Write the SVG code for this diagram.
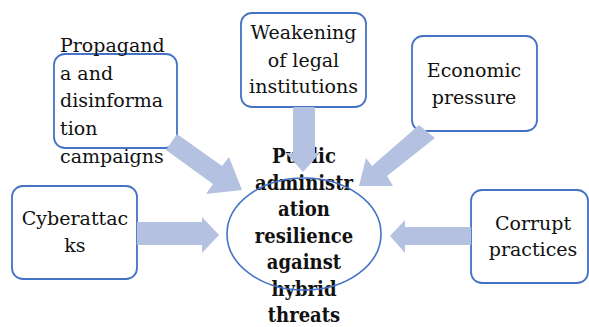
<svg xmlns="http://www.w3.org/2000/svg" width="589" height="327" viewBox="0 0 589 327">
<style>
.box{fill:#fff;stroke:#4472c4;stroke-width:1.8}
.t{font-family:"DejaVu Serif","Liberation Serif",serif;font-size:19px;fill:#111}
.c{text-anchor:middle}
.b{font-family:"DejaVu Serif Condensed","DejaVu Serif","Liberation Serif",serif;font-size:20px;font-weight:bold;fill:#111;text-anchor:middle}
.arr{fill:#b4c1e1}
</style>
<rect width="589" height="327" fill="#fff"/>
<g id="propaganda">
<rect class="box" x="54" y="54" width="123" height="94" rx="11"/>
<text class="t" x="60"><tspan x="60" y="52">Propagand</tspan><tspan x="60" y="79.5">a and</tspan><tspan x="60" y="107">disinforma</tspan><tspan x="60" y="135">tion</tspan><tspan x="60" y="163">campaigns</tspan></text>
</g>
<g id="weakening">
<rect class="box" x="241" y="13" width="125" height="94" rx="11"/>
<text class="t c"><tspan x="303.5" y="39">Weakening</tspan><tspan x="303.5" y="66.5">of legal</tspan><tspan x="303.5" y="93">institutions</tspan></text>
</g>
<g id="economic">
<rect class="box" x="412" y="36" width="125" height="95" rx="11"/>
<text class="t c"><tspan x="474" y="77">Economic</tspan><tspan x="474" y="104">pressure</tspan></text>
</g>
<g id="cyberattacks">
<rect class="box" x="12" y="186" width="125" height="93" rx="11"/>
<text class="t c"><tspan x="75" y="225">Cyberattac</tspan><tspan x="75" y="252">ks</tspan></text>
</g>
<g id="corrupt">
<rect class="box" x="471" y="190" width="117" height="93" rx="11"/>
<text class="t c"><tspan x="533" y="230">Corrupt</tspan><tspan x="533" y="256">practices</tspan></text>
</g>
<g id="center">
<text class="b"><tspan x="304" y="163">Public</tspan><tspan x="304" y="189.5">administr</tspan><tspan x="304" y="216">ation</tspan><tspan x="304" y="242.5">resilience</tspan><tspan x="304" y="269">against</tspan><tspan x="304" y="295.5">hybrid</tspan><tspan x="304" y="322">threats</tspan></text>
<ellipse cx="304" cy="234" rx="77" ry="56" fill="none" stroke="#4472c4" stroke-width="1.6"/>
</g>
<g id="connectors">
<polygon class="arr" points="293,107 315,107 315,153 320,153 303,172 286,153 293,153"/>
<polygon class="arr" points="177,134 166,150 213,184 206,194 242,190 229,157 222,166"/>
<polygon class="arr" points="419,125 435,138 387,176 393,186 359,186 366,158 372,166"/>
<polygon class="arr" points="137,222 202,222 202,217 219,235 202,253 202,245 137,245"/>
<polygon class="arr" points="471,227 405,227 405,220 390,236 405,253 405,245 471,245"/>
</g>
</svg>
